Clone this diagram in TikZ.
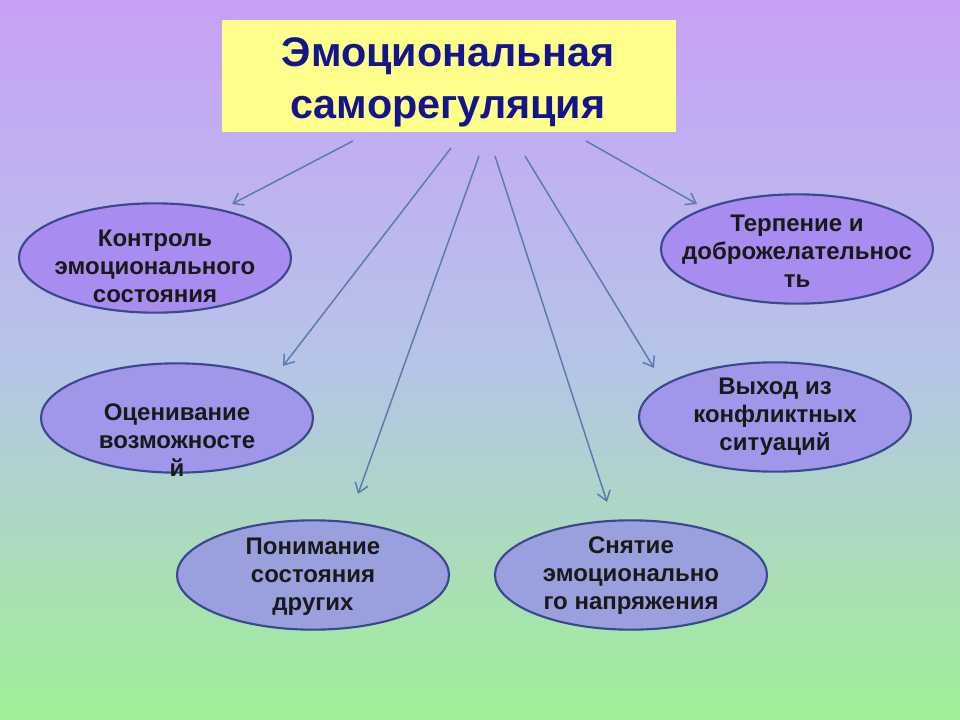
\documentclass[tikz,border=0pt]{standalone}
\usepackage{fontspec}
\setmainfont{Liberation Sans}
\usetikzlibrary{shapes.geometric,arrows.meta}
\definecolor{bgtop}{RGB}{200,160,246}
\definecolor{bgmid}{RGB}{182,196,232}
\definecolor{bgbot}{RGB}{160,240,150}
\definecolor{titlefill}{RGB}{255,255,140}
\definecolor{titletext}{RGB}{20,20,140}
\definecolor{ovalline}{RGB}{60,72,140}
\definecolor{arrowcol}{RGB}{90,122,176}
\definecolor{ovalA}{RGB}{168,140,240}
\definecolor{ovalB}{RGB}{160,150,234}
\definecolor{ovalC}{RGB}{154,160,222}
\tikzset{
  oval/.style={ellipse, draw=ovalline, line width=1.6pt, minimum width=204pt, minimum height=82pt, inner sep=0pt},
  lab/.style={align=center, font=\fontsize{18}{21}\selectfont\bfseries, text=black!90},
  conn/.style={draw=arrowcol, line width=1.1pt, -{Straight Barb[length=7pt,width=10pt]}}
}
\begin{document}
\begin{tikzpicture}[x=0.75pt,y=-0.75pt]
\useasboundingbox (0,0) rectangle (960,720);
\shade[top color=bgtop, bottom color=bgbot, middle color=bgmid] (0,0) rectangle (960,720);
\node[fill=titlefill, minimum width=340.5pt, minimum height=84pt, inner sep=0pt] (title) at (449,76) {};
\node[align=center, text=titletext, font=\fontsize{31}{39}\selectfont\bfseries] (titletxt) at (448,82) {Эмоциональная\\саморегуляция};

\node[oval, fill=ovalA] (e1) at (155,258) {};
\node[lab] (t1) at (155,266) {Контроль\\эмоционального\\состояния};
\node[oval, fill=ovalA] (e2) at (797,249) {};
\node[lab] (t2) at (797,251) {Терпение и\\доброжелательнос\\ть};
\node[oval, fill=ovalB] (e3) at (177,418) {};
\node[lab] (t3) at (177,440) {Оценивание\\возможносте\\й};
\node[oval, fill=ovalB] (e4) at (775,417) {};
\node[lab] (t4) at (e4) {Выход из\\конфликтных\\ситуаций};
\node[oval, fill=ovalC] (e5) at (313,575) {};
\node[lab] (t5) at (313,577) {Понимание\\состояния\\других};
\node[oval, fill=ovalC] (e6) at (631,575) {};
\node[lab] (t6) at (631,576) {Снятие\\эмоционально\\го напряжения};

\coordinate (s1) at (353,141); \coordinate (d1) at (232,204);
\coordinate (s2) at (451,148); \coordinate (d2) at (283,366);
\coordinate (s3) at (479,156); \coordinate (d3) at (358,494);
\coordinate (s4) at (495,156); \coordinate (d4) at (607,502);
\coordinate (s5) at (525,156); \coordinate (d5) at (654,368);
\coordinate (s6) at (586,141); \coordinate (d6) at (697,204);
\foreach \i in {1,...,6} {\draw[conn] (s\i) -- (d\i);}
\end{tikzpicture}
\end{document}
